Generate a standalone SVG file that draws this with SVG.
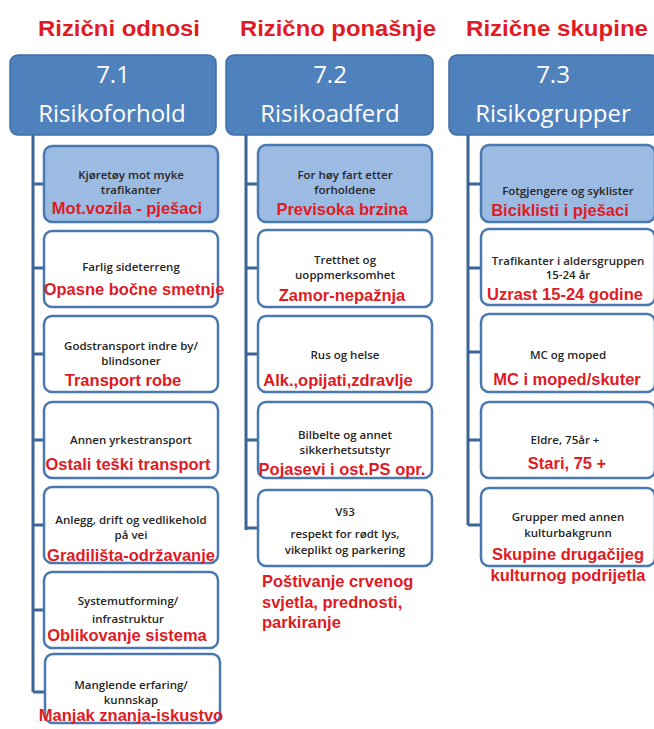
<svg xmlns="http://www.w3.org/2000/svg" width="654" height="729" viewBox="0 0 654 729">
<style>
.title{font-family:"Liberation Sans",Arial,sans-serif;font-weight:bold;font-size:22px;fill:#e01b24;text-anchor:middle}
.hbox{fill:#4f81bd;stroke:#3f6fa8;stroke-width:1.5}
.htxt{font-family:"Open Sans","Liberation Sans",sans-serif;font-size:24px;fill:#ffffff;text-anchor:middle}
.box{fill:#ffffff;stroke:#4a78b0;stroke-width:2.5}
.box1{fill:#9cbbe3;stroke:#4a78b0;stroke-width:2.5}
.bt{font-family:"Open Sans","Liberation Sans",sans-serif;font-weight:600;font-size:11.5px;fill:#262626;text-anchor:middle}
.rt{font-family:"Liberation Sans",Arial,sans-serif;font-weight:bold;font-size:16.5px;fill:#e01b24;text-anchor:middle}
.rtl{font-family:"Liberation Sans",Arial,sans-serif;font-weight:bold;font-size:16.5px;fill:#e01b24}
.ln{stroke:#3b6596;stroke-width:3;fill:none}
</style>
<rect width="654" height="729" fill="#ffffff"/>
<g id="titles">
<text class="title" x="119" y="36" textLength="162" lengthAdjust="spacingAndGlyphs">Rizični odnosi</text>
<text class="title" x="338" y="36" textLength="196" lengthAdjust="spacingAndGlyphs">Rizično ponašnje</text>
<text class="title" x="557" y="36" textLength="182" lengthAdjust="spacingAndGlyphs">Rizične skupine</text>
</g>
<g id="connectors">
<path class="ln" d="M33 135 V692 M33 184 H44 M33 268 H44 M33 354 H44 M33 440 H44 M33 525 H44 M33 610 H44 M33 692 H44"/>
<path class="ln" d="M246 135 V530 M246 184 H258 M246 268 H258 M246 354 H258 M246 440 H258 M246 528 H258"/>
<path class="ln" d="M468 135 V525 M468 184 H481 M468 268 H481 M468 352 H481 M468 440 H481 M468 525 H481"/>
</g>
<g id="h1"><rect class="hbox" x="10" y="55" width="206" height="80" rx="8"/><text class="htxt" x="113" y="83">7.1</text><text class="htxt" x="112" y="122">Risikoforhold</text></g>
<g id="h2"><rect class="hbox" x="226" y="55" width="207" height="80" rx="8"/><text class="htxt" x="330" y="83">7.2</text><text class="htxt" x="330" y="122">Risikoadferd</text></g>
<g id="h3"><rect class="hbox" x="449" y="55" width="210" height="80" rx="8"/><text class="htxt" x="553" y="83">7.3</text><text class="htxt" x="553" y="122">Risikogrupper</text></g>

<g id="c1b1"><rect class="box1" x="44" y="146" width="174" height="76" rx="8"/><text class="bt" x="131" y="179">Kjøretøy mot myke</text><text class="bt" x="131" y="194">trafikanter</text><text class="rt" x="127" y="214">Mot.vozila - pješaci</text></g>
<g id="c1b2"><rect class="box" x="44" y="231" width="174" height="76" rx="8"/><text class="bt" x="131" y="271">Farlig sideterreng</text><text class="rt" x="134" y="295">Opasne bočne smetnje</text></g>
<g id="c1b3"><rect class="box" x="44" y="316" width="174" height="76" rx="8"/><text class="bt" x="131" y="350">Godstransport indre by/</text><text class="bt" x="131" y="365">blindsoner</text><text class="rt" x="123" y="386">Transport robe</text></g>
<g id="c1b4"><rect class="box" x="44" y="402" width="174" height="76" rx="8"/><text class="bt" x="131" y="444">Annen yrkestransport</text><text class="rt" x="128" y="470">Ostali teški transport</text></g>
<g id="c1b5"><rect class="box" x="44" y="487" width="174" height="76" rx="8"/><text class="bt" x="131" y="524">Anlegg, drift og vedlikehold</text><text class="bt" x="131" y="539">på vei</text><text class="rt" x="131" y="561">Gradilišta-održavanje</text></g>
<g id="c1b6"><rect class="box" x="44" y="572" width="174" height="76" rx="8"/><text class="bt" x="128" y="605">Systemutforming/</text><text class="bt" x="128" y="623">infrastruktur</text><text class="rt" x="127" y="641">Oblikovanje sistema</text></g>
<g id="c1b7"><rect class="box" x="45" y="654" width="175" height="69" rx="8"/><text class="bt" x="131" y="689">Manglende erfaring/</text><text class="bt" x="131" y="704">kunnskap</text><text class="rt" x="131" y="721">Manjak znanja-iskustvo</text></g>

<g id="c2b1"><rect class="box1" x="258" y="145" width="174" height="77" rx="8"/><text class="bt" x="345" y="179">For høy fart etter</text><text class="bt" x="345" y="194">forholdene</text><text class="rt" x="342" y="215">Previsoka brzina</text></g>
<g id="c2b2"><rect class="box" x="258" y="230" width="174" height="77" rx="8"/><text class="bt" x="345" y="264">Tretthet og</text><text class="bt" x="345" y="279">uoppmerksomhet</text><text class="rt" x="342" y="301">Zamor-nepažnja</text></g>
<g id="c2b3"><rect class="box" x="258" y="316" width="174" height="76" rx="8"/><text class="bt" x="345" y="359">Rus og helse</text><text class="rt" x="338" y="386">Alk.,opijati,zdravlje</text></g>
<g id="c2b4"><rect class="box" x="258" y="402" width="174" height="76" rx="8"/><text class="bt" x="345" y="439">Bilbelte og annet</text><text class="bt" x="345" y="454">sikkerhetsutstyr</text><text class="rt" x="342" y="475">Pojasevi i ost.PS opr.</text></g>
<g id="c2b5"><rect class="box" x="258" y="490" width="174" height="76" rx="8"/><text class="bt" x="345" y="516">V§3</text><text class="bt" x="345" y="538">respekt for rødt lys,</text><text class="bt" x="345" y="554">vikeplikt og parkering</text></g>
<g id="c2note"><text class="rtl" x="262" y="587">Poštivanje crvenog</text><text class="rtl" x="262" y="608">svjetla, prednosti,</text><text class="rtl" x="262" y="628">parkiranje</text></g>

<g id="c3b1"><rect class="box1" x="481" y="145" width="174" height="77" rx="8"/><text class="bt" x="568" y="195">Fotgjengere og syklister</text><text class="rt" x="560" y="216">Biciklisti i pješaci</text></g>
<g id="c3b2"><rect class="box" x="481" y="229" width="174" height="76" rx="8"/><text class="bt" x="568" y="265">Trafikanter i aldersgruppen</text><text class="bt" x="568" y="279">15-24 år</text><text class="rt" x="565" y="300">Uzrast 15-24  godine</text></g>
<g id="c3b3"><rect class="box" x="481" y="314" width="174" height="78" rx="8"/><text class="bt" x="568" y="359">MC og moped</text><text class="rt" x="567" y="385">MC i moped/skuter</text></g>
<g id="c3b4"><rect class="box" x="481" y="402" width="174" height="76" rx="8"/><text class="bt" x="565" y="444">Eldre, 75år +</text><text class="rt" x="567" y="469">Stari, 75 +</text></g>
<g id="c3b5"><rect class="box" x="481" y="488" width="174" height="78" rx="8"/><text class="bt" x="568" y="521">Grupper med annen</text><text class="bt" x="568" y="537">kulturbakgrunn</text><text class="rt" x="568" y="560">Skupine drugačijeg</text><text class="rt" x="568" y="581">kulturnog podrijetla</text></g>
</svg>
